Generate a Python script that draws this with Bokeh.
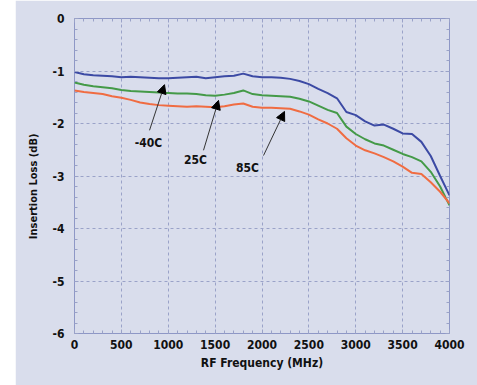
from bokeh.plotting import figure
from bokeh.models import LinearAxis, Arrow, NormalHead, Label, Spacer, FixedTicker
from bokeh.layouts import row
from bokeh.embed import file_html
from bokeh.resources import INLINE

freq = [0, 100, 200, 300, 400, 500, 600, 700, 800, 900, 1000, 1100, 1200, 1300, 1400,
        1500, 1600, 1700, 1800, 1900, 2000, 2100, 2200, 2300, 2400, 2500, 2600, 2700,
        2800, 2900, 3000, 3100, 3200, 3300, 3400, 3500, 3600, 3700, 3800, 3900, 4000]

loss_m40 = [-1.02, -1.06, -1.08, -1.09, -1.10, -1.12, -1.11, -1.12, -1.13, -1.14, -1.14,
            -1.13, -1.12, -1.11, -1.14, -1.12, -1.10, -1.09, -1.05, -1.10, -1.12, -1.12,
            -1.13, -1.15, -1.19, -1.25, -1.34, -1.42, -1.52, -1.78, -1.84, -1.96, -2.04,
            -2.02, -2.10, -2.19, -2.20, -2.35, -2.62, -3.00, -3.37]

loss_25 = [-1.22, -1.26, -1.29, -1.31, -1.33, -1.36, -1.38, -1.39, -1.40, -1.41, -1.42,
           -1.43, -1.43, -1.44, -1.46, -1.47, -1.45, -1.42, -1.37, -1.44, -1.46, -1.47,
           -1.48, -1.49, -1.53, -1.58, -1.66, -1.74, -1.80, -2.06, -2.20, -2.30, -2.38,
           -2.42, -2.50, -2.58, -2.64, -2.72, -2.92, -3.20, -3.56]

loss_85 = [-1.37, -1.40, -1.42, -1.44, -1.48, -1.51, -1.55, -1.60, -1.63, -1.65, -1.66,
           -1.67, -1.68, -1.67, -1.68, -1.69, -1.67, -1.64, -1.62, -1.68, -1.70, -1.70,
           -1.71, -1.72, -1.77, -1.83, -1.92, -2.00, -2.10, -2.28, -2.42, -2.51, -2.57,
           -2.64, -2.72, -2.82, -2.94, -2.96, -3.12, -3.30, -3.52]

x_ticks = [0, 500, 1000, 1500, 2000, 2500, 3000, 3500, 4000]
y_ticks = [0, -1, -2, -3, -4, -5, -6]
y_tick_labels = ["0", "-1", "-2", "-3", "-4", "-5", "-6"]

series_labels = ["-40C", "25C", "85C"]
label_pos = [(789, -2.38), (1290, -2.69), (1845, -2.84)]
arrow_start = [(800, -2.13), (1376, -2.51), (2016, -2.61)]
arrow_end = [(960, -1.26), (1536, -1.56), (2240, -1.77)]

FONT = "Liberation Sans Narrow, DejaVu Sans Condensed, Arial Narrow, sans-serif"
BG = "#d9ddec"
GRID = "#9aa2c8"

p = figure(width=462, height=385, x_range=(0, 4000), y_range=(-6, 0),
           output_backend="svg", toolbar_location=None,
           min_border_left=59, min_border_right=28, min_border_top=18, min_border_bottom=52)
p.background_fill_color = BG
p.border_fill_color = BG
p.outline_line_color = "#8e97c6"
p.outline_line_width = 1

p.line(freq, loss_m40, line_color="#3c4aa4", line_width=2)
p.line(freq, loss_25, line_color="#449a48", line_width=2)
p.line(freq, loss_85, line_color="#f06c42", line_width=2)

for ax in (p.xaxis[0], p.yaxis[0]):
    ax.axis_line_color = None
    ax.major_tick_in = 4
    ax.major_tick_out = 0
    ax.minor_tick_in = 3
    ax.minor_tick_out = 0
    ax.major_tick_line_color = GRID
    ax.minor_tick_line_color = GRID
    ax.major_label_text_font = FONT
    ax.major_label_text_font_style = "bold"
    ax.major_label_text_font_size = "12px"
    ax.major_label_text_color = "#111111"
    ax.axis_label_text_font = FONT
    ax.axis_label_text_font_style = "bold"
    ax.axis_label_text_color = "#111111"

p.xaxis[0].ticker = FixedTicker(ticks=x_ticks, minor_ticks=list(range(0, 4001, 100)))
p.yaxis[0].ticker = FixedTicker(ticks=y_ticks, minor_ticks=[-i * 0.2 for i in range(31)])
p.yaxis[0].major_label_overrides = {t: l for t, l in zip(y_ticks, y_tick_labels)}
p.xaxis[0].axis_label = "RF Frequency (MHz)"
p.yaxis[0].axis_label = "Insertion Loss (dB)" + "\u00a0" * 6
p.xaxis[0].axis_label_text_font_size = "12px"
p.yaxis[0].axis_label_text_font_size = "11px"
p.xaxis[0].major_label_standoff = 6
p.yaxis[0].major_label_standoff = 10
p.xaxis[0].axis_label_standoff = 4
p.yaxis[0].axis_label_standoff = 10

for loc, ticker in (("above", FixedTicker(ticks=x_ticks, minor_ticks=list(range(0, 4001, 100)))),
                    ("right", FixedTicker(ticks=y_ticks, minor_ticks=[-i * 0.2 for i in range(31)]))):
    ax = LinearAxis(ticker=ticker)
    ax.axis_line_color = None
    ax.major_tick_in = 4
    ax.major_tick_out = 0
    ax.minor_tick_in = 3
    ax.minor_tick_out = 0
    ax.major_tick_line_color = GRID
    ax.minor_tick_line_color = GRID
    ax.major_label_text_color = None
    ax.major_label_text_font_size = "1px"
    ax.major_label_standoff = 0
    p.add_layout(ax, loc)

p.xgrid.ticker = FixedTicker(ticks=x_ticks)
p.ygrid.ticker = FixedTicker(ticks=y_ticks)
p.grid.grid_line_color = GRID
p.grid.grid_line_dash = "3 3"
p.grid.grid_line_width = 1

for name, (lx, ly), (sx, sy), (ex, ey) in zip(series_labels, label_pos, arrow_start, arrow_end):
    p.add_layout(Arrow(x_start=sx, y_start=sy, x_end=ex, y_end=ey, line_color="#333333",
                       line_width=1,
                       end=NormalHead(size=9, fill_color="black", line_color="black")))
    p.add_layout(Label(x=lx, y=ly, text=name, text_font=FONT, text_font_style="bold",
                       text_font_size="12px", text_color="#111111",
                       text_align="center", text_baseline="middle"))

layout = row(Spacer(width=15, height=385), p, spacing=0)
open("out.html", "w").write(file_html(layout, INLINE))
